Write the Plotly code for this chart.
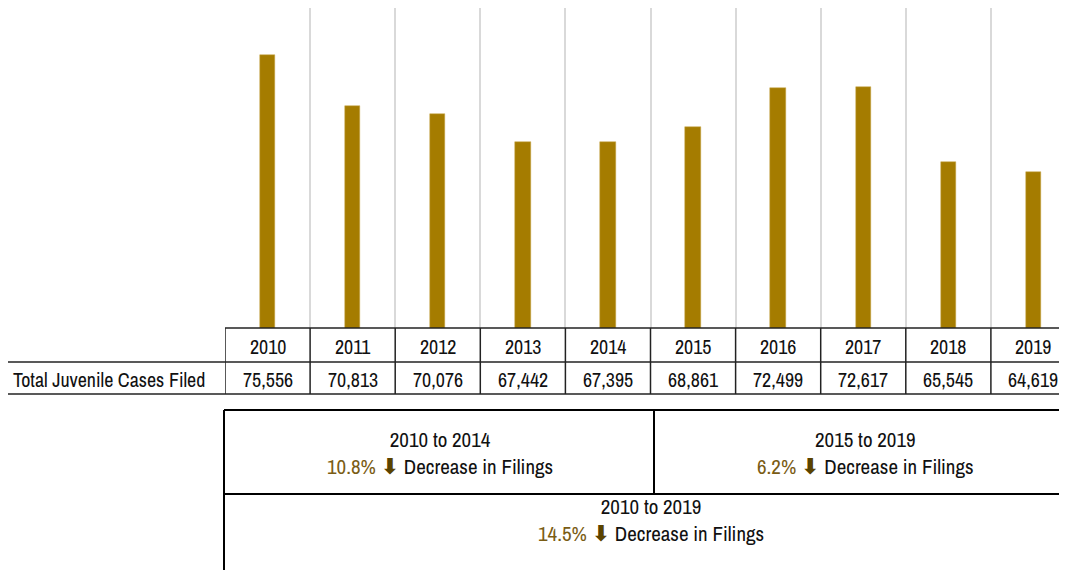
import plotly.graph_objects as go

years = ["2010", "2011", "2012", "2013", "2014", "2015", "2016", "2017", "2018", "2019"]
cases = [75556, 70813, 70076, 67442, 67395, 68861, 72499, 72617, 65545, 64619]
row_label = "Total Juvenile Cases Filed"
periods = ["2010 to 2014", "2015 to 2019", "2010 to 2019"]
pct_change = ["10.8%", "6.2%", "14.5%"]
change_text = "Decrease in Filings"

OFF = 8  # page body margin
WT, HT = 1067, 578
W, H = WT - 2 * OFF, HT - 2 * OFF
FONT = "Liberation Sans Narrow, Archivo Narrow, DejaVu Sans Condensed, Arial Narrow, sans-serif"
BAR = "#a57c00"
PCT = "#7a5c14"
ARROW = "#5a4300"

def py(y):
    return 1 - (y - OFF) / H

def px(x):
    return (x - OFF) / W

fig = go.Figure()
fig.add_trace(go.Bar(
    x=list(range(len(years))), y=cases, width=0.18,
    marker=dict(color=BAR, line=dict(color="#c9a64a", width=0.5)),
    hoverinfo="skip", showlegend=False,
))

col_w = 85.1
x0 = 225
right_edge_px = OFF + W
right_val = -0.5 + (right_edge_px - x0) / col_w

shapes = []
line_col = "#222222"
top, mid, bot = 328, 362, 394
label_left = 7
lw = 1.5
shapes.append(dict(type="line", xref="paper", yref="paper", x0=px(x0), x1=1, y0=py(top), y1=py(top), line=dict(color=line_col, width=lw)))
shapes.append(dict(type="line", xref="paper", yref="paper", x0=px(label_left), x1=1, y0=py(mid), y1=py(mid), line=dict(color=line_col, width=lw)))
shapes.append(dict(type="line", xref="paper", yref="paper", x0=px(label_left), x1=1, y0=py(bot), y1=py(bot), line=dict(color=line_col, width=lw)))
shapes.append(dict(type="line", xref="paper", yref="paper", x0=px(label_left), x1=px(label_left), y0=py(mid), y1=py(bot), line=dict(color=line_col, width=lw)))
for i in range(len(years)):
    shapes.append(dict(type="line", xref="x", yref="paper", x0=i - 0.5, x1=i - 0.5, y0=py(top), y1=py(bot), line=dict(color=line_col, width=lw)))

s_top, s_mid = 410, 494
s_split = 654
bw = 2
shapes.append(dict(type="line", xref="paper", yref="paper", x0=px(x0 - 1), x1=1, y0=py(s_top), y1=py(s_top), line=dict(color="#000", width=bw)))
shapes.append(dict(type="line", xref="paper", yref="paper", x0=px(x0 - 1), x1=1, y0=py(s_mid), y1=py(s_mid), line=dict(color="#000", width=bw)))
shapes.append(dict(type="line", xref="paper", yref="paper", x0=px(x0 - 1), x1=px(x0 - 1), y0=py(s_top), y1=0, line=dict(color="#000", width=bw)))
shapes.append(dict(type="line", xref="paper", yref="paper", x0=px(s_split), x1=px(s_split), y0=py(s_top), y1=py(s_mid), line=dict(color="#000", width=bw)))

annotations = []
tf = dict(family=FONT, size=20, color="#111111")
sf = dict(family=FONT, size=21, color="#111111")
for i, (yr, v) in enumerate(zip(years, cases)):
    annotations.append(dict(x=i, y=py((top + mid) / 2 + 1), xref="x", yref="paper", text=yr, showarrow=False, font=tf, xanchor="center", yanchor="middle"))
    annotations.append(dict(x=i, y=py((mid + bot) / 2 + 1), xref="x", yref="paper", text=f"{v:,}", showarrow=False, font=tf, xanchor="center", yanchor="middle"))
annotations.append(dict(x=px(11), y=py((mid + bot) / 2 + 1), xref="paper", yref="paper", text=row_label, showarrow=False, font=tf, xanchor="left", yanchor="middle"))

right_edge = x0 + 10 * col_w
centers = [(x0 + s_split) / 2, (s_split + right_edge) / 2, (x0 + right_edge) / 2]
ys = [453, 453, 520]
for c, yc, per, pc in zip(centers, ys, periods, pct_change):
    txt = (f'{per}<br><span style="color:{PCT}">{pc}</span> '
           f'<span style="color:{ARROW};font-family:DejaVu Sans;font-size:22px;font-weight:bold">⬇</span> {change_text}')
    annotations.append(dict(x=px(c), y=py(yc), xref="paper", yref="paper", text=txt, showarrow=False, font=sf,
                            xanchor="center", yanchor="middle", align="center"))

fig.update_layout(
    width=W, height=H,
    margin=dict(l=0, r=0, t=0, b=0),
    paper_bgcolor="white", plot_bgcolor="white",
    xaxis=dict(domain=[px(x0), 1], range=[-0.5, right_val], tickvals=[i - 0.5 for i in range(len(years) + 1)],
               showticklabels=False, showgrid=True, gridcolor="#d9d9d9", gridwidth=2, zeroline=False, showline=False, ticks=""),
    yaxis=dict(domain=[py(top), 1], range=[50000, 80000], showticklabels=False, showgrid=False, zeroline=False, showline=False),
    shapes=shapes, annotations=annotations,
    bargap=0,
)
fig.write_html("out.html")
